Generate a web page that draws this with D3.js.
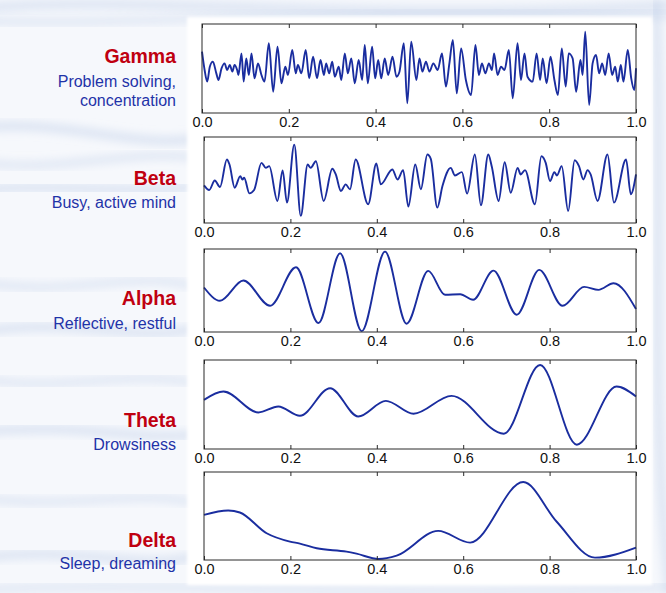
<!DOCTYPE html>
<html>
<head>
<meta charset="utf-8">
<script src="https://cdn.jsdelivr.net/npm/d3@7"></script>
<style>
  html, body { margin: 0; padding: 0; background: #ffffff; }
  svg { display: block; }
</style>
</head>
<body>
<svg id="chart" width="666" height="593"></svg>
<script>
// ---------------- DATA ----------------
const tickValues = [0, 0.2, 0.4, 0.6, 0.8, 1.0];
const tickLabels = ["0.0", "0.2", "0.4", "0.6", "0.8", "1.0"];
const bandNames = ["Gamma", "Beta", "Alpha", "Theta", "Delta"];
const bandDescriptions = [
  ["Problem solving,", "concentration"],
  ["Busy, active mind"],
  ["Reflective, restful"],
  ["Drowsiness"],
  ["Sleep, dreaming"]
];

// waveform key points [time, amplitude] (amplitude: -1 bottom .. 1 top of frame)
const gammaWave = [
  [0,0.378],[0.006,-0.034],[0.012,-0.296],[0.018,0.041],[0.025,0.154],[0.033,-0.109],[0.038,-0.258],
  [0.045,0.004],[0.052,0.116],[0.058,-0.034],[0.064,0.079],[0.070,-0.071],[0.075,0.079],[0.081,-0.034],
  [0.084,-0.146],[0.091,0.341],[0.096,-0.296],[0.102,0.228],[0.108,-0.146],[0.114,0.341],[0.121,-0.221],
  [0.129,0.116],[0.137,-0.146],[0.144,-0.296],[0.154,0.566],[0.164,-0.521],[0.174,0.491],[0.183,-0.333],
  [0.192,0.041],[0.198,-0.146],[0.208,0.416],[0.216,-0.109],[0.221,0.079],[0.229,-0.109],[0.239,0.416],
  [0.247,-0.221],[0.256,0.266],[0.265,-0.221],[0.273,0.191],[0.281,-0.146],[0.286,0.116],[0.293,-0.109],
  [0.300,0.154],[0.306,-0.184],[0.315,0.041],[0.321,-0.258],[0.329,0.341],[0.336,-0.109],[0.344,0.228],
  [0.352,-0.333],[0.361,0.191],[0.369,-0.258],[0.375,0.528],[0.382,-0.333],[0.392,0.491],[0.399,-0.221],
  [0.406,0.191],[0.413,-0.221],[0.421,0.228],[0.429,-0.146],[0.439,0.266],[0.448,-0.184],[0.455,-0.071],
  [0.465,0.566],[0.473,-0.783],[0.482,0.603],[0.494,-0.258],
  [0.501,0.228],[0.508,-0.071],[0.516,0.154],[0.524,-0.071],[0.533,0.116],[0.543,-0.034],[0.553,0.341],
  [0.562,-0.408],[0.570,0.116],[0.578,0.640],[0.587,-0.558],[0.597,0.453],[0.608,-0.258],[0.620,-0.596],
  [0.630,0.528],[0.638,-0.146],[0.645,0.116],[0.653,-0.109],[0.661,0.116],[0.668,-0.034],[0.673,0.341],
  [0.681,-0.146],[0.689,0.041],[0.697,-0.034],[0.707,0.416],[0.716,-0.670],[0.727,0.566],[0.735,-0.258],
  [0.743,0.341],[0.750,-0.184],[0.762,-0.296],[0.771,0.341],[0.779,-0.258],[0.785,0.228],[0.794,-0.333],
  [0.803,0.266],[0.812,-0.258],[0.820,-0.596],[0.829,0.453],[0.838,-0.408],[0.845,0.341],[0.854,0.228],
  [0.862,-0.521],[0.872,0.191],[0.877,-0.146],[0.883,0.828],[0.892,-0.820],[0.900,0.116],[0.908,0.303],
  [0.915,-0.109],[0.922,0.116],[0.929,-0.146],[0.937,0.341],[0.945,-0.146],[0.952,0.041],[0.958,-0.296],
  [0.965,0.079],[0.971,-0.296],[0.981,0.416],[0.989,-0.221],[0.996,-0.483],[1.0,0.004]
];
const betaWave = [
  [0,-0.125],[0.012,-0.233],[0.025,-0.010],[0.037,-0.164],[0.053,0.476],[0.059,0.360],[0.071,-0.179],
  [0.084,0.091],[0.089,0.013],[0.093,0.052],[0.105,-0.310],[0.116,-0.233],[0.133,0.399],[0.143,0.283],
  [0.151,0.322],[0.170,-0.487],[0.182,0.222],[0.192,-0.526],[0.209,0.823],[0.224,-0.834],[0.240,0.360],
  [0.247,0.283],[0.259,0.437],[0.277,-0.487],[0.297,0.260],[0.305,0.129],[0.317,-0.256],[0.328,-0.102],
  [0.338,-0.218],[0.351,0.476],[0.380,-0.565],[0.399,0.383],[0.409,-0.102],[0.436,0.245],[0.448,0.013],
  [0.461,0.229],[0.473,-0.618],[0.489,0.360],[0.502,-0.218],[0.517,0.592],[0.525,0.491],[0.540,-0.642],
  [0.552,-0.141],[0.571,0.283],[0.581,0.106],[0.597,0.183],[0.609,-0.318],[0.627,0.592],[0.641,-0.588],
  [0.658,0.592],[0.666,0.322],[0.682,-0.487],[0.696,0.414],[0.710,-0.295],[0.726,0.283],[0.733,0.129],
  [0.743,0.229],[0.766,-0.565],[0.781,0.553],[0.791,0.399],[0.801,-0.025],[0.811,0.183],[0.817,0.106],
  [0.828,0.322],[0.843,-0.719],[0.858,0.461],[0.868,0.322],[0.878,0.013],[0.888,0.229],[0.895,0.129],
  [0.911,-0.487],[0.934,0.592],[0.949,-0.526],[0.977,0.476],[0.988,-0.333],[1.0,0.129]
];
const alphaWave = [
  [0,0.072],[0.037,-0.248],[0.091,0.240],[0.153,-0.368],[0.213,0.560],[0.265,-0.784],[0.315,0.896],
  [0.365,-0.980],[0.419,0.936],[0.469,-0.800],[0.519,0.472],[0.558,-0.104],[0.593,-0.090],[0.623,-0.224],
  [0.670,0.480],[0.724,-0.584],[0.776,0.496],[0.830,-0.368],[0.880,0.088],[0.913,0.016],[0.948,0.176],
  [1.0,-0.448]
];
const thetaWave = [
  [0,0.104],[0.045,0.291],[0.126,-0.179],[0.172,-0.045],[0.222,-0.254],[0.292,0.366],[0.357,-0.269],
  [0.421,0.082],[0.485,-0.209],[0.573,0.194],[0.694,-0.657],[0.778,0.888],[0.863,-0.903],[0.955,0.403],
  [1.0,0.179]
];
const deltaWave = [
  [0,0.027],[0.056,0.125],[0.083,0.080],[0.145,-0.392],[0.199,-0.582],[0.222,-0.627],[0.261,-0.734],
  [0.330,-0.810],[0.353,-0.856],[0.404,-0.977],[0.446,-0.901],[0.542,-0.338],[0.616,-0.605],[0.739,0.772],
  [0.816,-0.125],[0.905,-0.947],[1.0,-0.719]
];
const waves = [gammaWave, betaWave, alphaWave, thetaWave, deltaWave];

// ---------------- LAYOUT ----------------
const frames = [
  { x0: 202, x1: 636, y0: 24,  y1: 113, title: 63,  sub: [87, 106] },
  { x0: 204, x1: 636, y0: 137, y1: 223, title: 185, sub: [208] },
  { x0: 204, x1: 636, y0: 249, y1: 332, title: 305, sub: [329] },
  { x0: 204, x1: 636, y0: 360, y1: 449, title: 427, sub: [450] },
  { x0: 204, x1: 636, y0: 472, y1: 560, title: 547, sub: [569] }
];
const labelRight = 176;
const lineColor = "#1a2d9f";
const titleColor = "#c00010";
const subColor = "#1f33a8";
const font = "'Liberation Sans', Arial, Helvetica, sans-serif";

const svg = d3.select("#chart");

// ---------------- BACKGROUND ----------------
const defs = svg.append("defs");
defs.append("filter").attr("id", "blur").attr("x", "-20%").attr("y", "-50%").attr("width", "140%").attr("height", "200%")
  .append("feGaussianBlur").attr("stdDeviation", 5);
defs.append("filter").attr("id", "blur2").append("feGaussianBlur").attr("stdDeviation", 1.5);

svg.append("rect").attr("width", 666).attr("height", 593).attr("fill", "#f6f8fc");

const streaks = svg.append("g");
const streakPaths = [
  "M-20,8 C150,-6 350,24 700,4",
  "M-20,20 C120,28 300,6 700,16",
  "M-20,128 C60,118 140,150 200,138",
  "M-20,162 C60,174 130,148 200,158",
  "M-20,190 C60,182 130,196 200,186",
  "M-20,282 C70,298 140,268 200,288",
  "M-20,332 C80,316 150,346 200,326",
  "M-20,378 C60,394 130,368 200,384",
  "M-20,432 C80,422 140,442 200,434",
  "M-20,498 C70,510 140,488 200,504",
  "M-20,558 C80,544 150,574 200,554",
  "M-20,590 C150,580 400,600 700,586",
  "M656,0 C664,200 648,400 670,593"
];
streaks.selectAll("path").data(streakPaths).join("path")
  .attr("d", d => d)
  .attr("fill", "none")
  .attr("stroke", "#bccbe8")
  .attr("stroke-width", (d, i) => i % 2 ? 6 : 8)
  .attr("stroke-opacity", 0.5)
  .attr("filter", "url(#blur)");

svg.append("rect")
  .attr("x", 187).attr("y", 17).attr("width", 465).attr("height", 568)
  .attr("fill", "#ffffff").attr("filter", "url(#blur2)");

// ---------------- PANELS ----------------
frames.forEach((f, i) => {
  const x = d3.scaleLinear().domain([0, 1]).range([f.x0, f.x1]);
  const y = d3.scaleLinear().domain([-1, 1]).range([f.y1, f.y0]);
  const g = svg.append("g");

  const line = d3.line()
    .x(d => x(d[0]))
    .y(d => y(d[1]))
    .curve(d3.curveMonotoneX);
  g.append("path")
    .datum(waves[i])
    .attr("d", line)
    .attr("fill", "none")
    .attr("stroke", lineColor)
    .attr("stroke-width", 1.9)
    .attr("stroke-linejoin", "round");

  g.append("rect")
    .attr("x", f.x0).attr("y", f.y0)
    .attr("width", f.x1 - f.x0).attr("height", f.y1 - f.y0)
    .attr("fill", "none").attr("stroke", "#2a2a2a").attr("stroke-width", 1);

  const axB = d3.axisBottom(x).tickValues(tickValues)
    .tickFormat((d, k) => tickLabels[k]).tickSizeInner(-4).tickSizeOuter(0).tickPadding(6);
  const gb = g.append("g").attr("transform", `translate(0,${f.y1})`).call(axB);
  gb.select(".domain").remove();
  gb.selectAll("line").attr("stroke", "#2a2a2a");
  gb.selectAll("text").attr("font-family", font).attr("font-size", 14.5).attr("fill", "#111")
    .attr("y", 4).attr("dy", "0.71em");

  const axT = d3.axisTop(x).tickValues(tickValues).tickFormat("").tickSizeInner(-4).tickSizeOuter(0);
  const gt = g.append("g").attr("transform", `translate(0,${f.y0})`).call(axT);
  gt.select(".domain").remove();
  gt.selectAll("line").attr("stroke", "#2a2a2a");

  svg.append("text")
    .attr("x", labelRight).attr("y", f.title)
    .attr("text-anchor", "end")
    .attr("font-family", font).attr("font-weight", "bold").attr("font-size", 19.5)
    .attr("fill", titleColor)
    .text(bandNames[i]);
  bandDescriptions[i].forEach((s, k) => {
    svg.append("text")
      .attr("x", labelRight).attr("y", f.sub[k])
      .attr("text-anchor", "end")
      .attr("font-family", font).attr("font-size", 16)
      .attr("fill", subColor)
      .text(s);
  });
});
</script>
</body>
</html>
